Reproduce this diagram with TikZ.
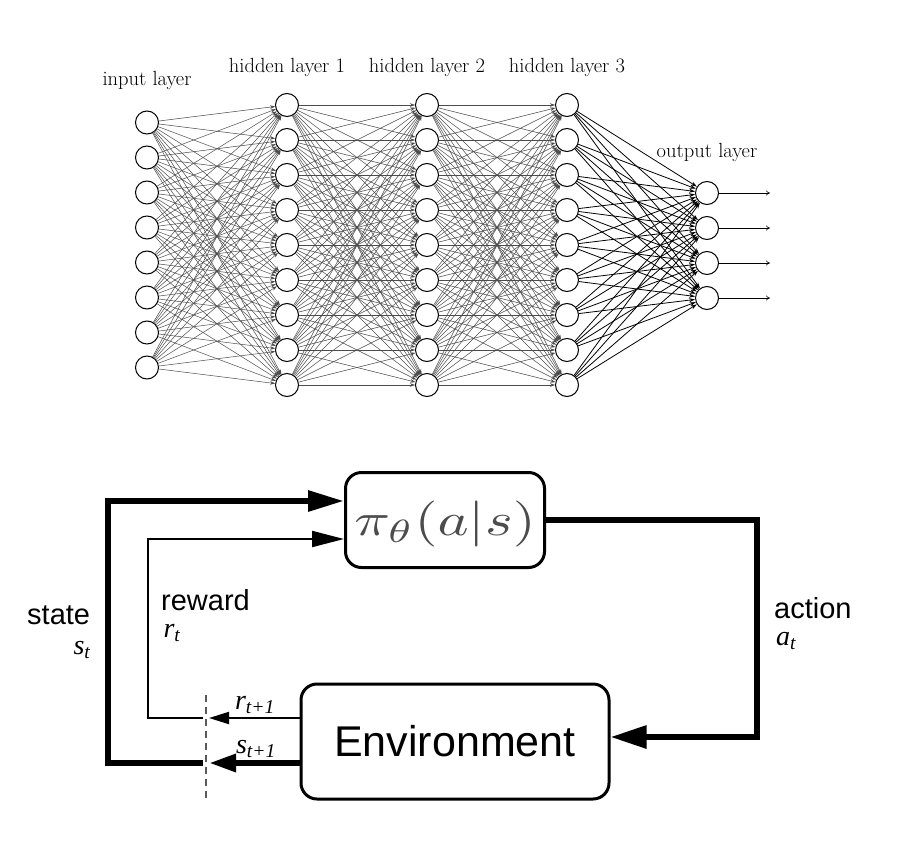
\documentclass[tikz,border=0pt]{standalone}
\usepackage{graphicx}
\usepackage{fontspec}
\newfontfamily\sansf{Liberation Sans}
\newfontfamily\timesf{Liberation Serif}
\usetikzlibrary{arrows.meta}
\begin{document}
\begin{tikzpicture}[x=1pt,y=-1pt,
  neuron/.style={circle,draw,line width=1pt,minimum size=23pt,inner sep=0pt,fill=white},
  conn/.style={draw=black!70,line width=0.5pt,-{Stealth[length=5pt,width=3.5pt]}},
  connout/.style={draw=black,line width=0.8pt,-{Stealth[length=6pt,width=4pt]}},
  outarr/.style={draw=black,line width=0.6pt,-{To[length=4pt,width=5pt]}},
  layerlab/.style={font=\fontsize{20.5}{22}\selectfont},
  rlbox/.style={draw,line width=3pt,rounded corners=16pt},
  biglab/.style={font=\sansf\fontsize{29}{32}\selectfont,anchor=west,inner sep=0pt},
  varlab/.style={font=\timesf\itshape\fontsize{28}{30}\selectfont,inner sep=0pt},
  heavy/.style={line width=6pt},
  light/.style={line width=2pt}]
\useasboundingbox[fill=white] (0,0) rectangle (912,840);

% ---------- neural network ----------
\foreach \k in {1,...,8} \node[neuron] (i\k) at (147,{122.5+35*(\k-1)}) {};
\foreach \k in {1,...,9} {
  \node[neuron] (a\k) at (287,{105+35*(\k-1)}) {};
  \node[neuron] (b\k) at (427,{105+35*(\k-1)}) {};
  \node[neuron] (c\k) at (567,{105+35*(\k-1)}) {};
}
\foreach \k in {1,...,4} {
  \node[neuron] (o\k) at (707,{193+35*(\k-1)}) {};
  \coordinate (oe\k) at (770,{193+35*(\k-1)});
}
\foreach \s in {1,...,8} \foreach \t in {1,...,9} \draw[conn] (i\s) -- (a\t);
\foreach \s in {1,...,9} \foreach \t in {1,...,9} {
  \draw[conn] (a\s) -- (b\t);
  \draw[conn] (b\s) -- (c\t);
}
\foreach \s in {1,...,9} \foreach \t in {1,...,4} \draw[connout] (c\s) -- (o\t);
\foreach \k in {1,...,4} \draw[outarr] (o\k) -- (oe\k);

\node[layerlab] (lin) at (147,80) {input layer};
\node[layerlab] (lh1) at (287,67) {hidden layer 1};
\node[layerlab] (lh2) at (427,67) {hidden layer 2};
\node[layerlab] (lh3) at (567,67) {hidden layer 3};
\node[layerlab] (lout) at (707,152) {output layer};

% ---------- RL loop ----------
\node[rlbox,minimum width=199pt,minimum height=95pt] (pi) at (445,520) {};
\node[text=black!70,inner sep=0pt] (pitext) at (445,524) {\scalebox{5.9}[4.6]{$\pi_\theta(a|s)$}};
\node[rlbox,minimum width=308pt,minimum height=115pt,
      font=\sansf\fontsize{43}{46}\selectfont] (env) at (455,741.5) {Environment};

\coordinate (cut1) at (206,718);
\coordinate (cut2) at (206,763);
\coordinate (rw1) at (148,718);
\coordinate (rw2) at (148,539);
\coordinate (rw3) at (344,539);
\coordinate (st1) at (108,763);
\coordinate (st2) at (108,501);
\coordinate (st3) at (344,501);
\coordinate (ac1) at (757,520);
\coordinate (ac2) at (757,737);
\coordinate (ds1) at (206,695);
\coordinate (ds2) at (206,802);
\coordinate (er) at (env.west |- cut1);
\coordinate (es) at (env.west |- cut2);
\coordinate (ea) at (env.east |- ac2);

\draw[black!65,line width=1.2pt,dash pattern=on 7pt off 5pt] (ds1) -- (ds2);

\draw[light,-{Triangle[length=20pt,width=12pt]}] (er) -- ([xshift=3pt]cut1);
\draw[heavy,-{Triangle[length=27pt,width=17pt]}] (es) -- ([xshift=3pt]cut2);
\draw[light,-{Triangle[length=32pt,width=16pt]}] ([xshift=-3pt]cut1) -- (rw1) -- (rw2) -- (rw3);
\draw[heavy,-{Triangle[length=36pt,width=20pt]},line join=miter] ([xshift=-3pt]cut2) -- (st1) -- (st2) -- (st3);
\draw[heavy,-{Triangle[length=36pt,width=22pt]},line join=miter] (pi.east |- ac1) -- (ac1) -- (ac2) -- (ea);

\node[biglab] (lstate) at (27,615) {state};
\node[varlab] (lst) at (82,650) {s\textsubscript{t}};
\node[biglab] (lrew) at (161,600) {reward};
\node[varlab] (lrt) at (172,633) {r\textsubscript{t}};
\node[biglab] (lact) at (774,608) {action};
\node[varlab] (lat) at (786,641) {a\textsubscript{t}};
\node[varlab] (lrt1) at (255,705) {r\textsubscript{t+1}};
\node[varlab] (lst1) at (256,749) {s\textsubscript{t+1}};
\end{tikzpicture}
\end{document}
